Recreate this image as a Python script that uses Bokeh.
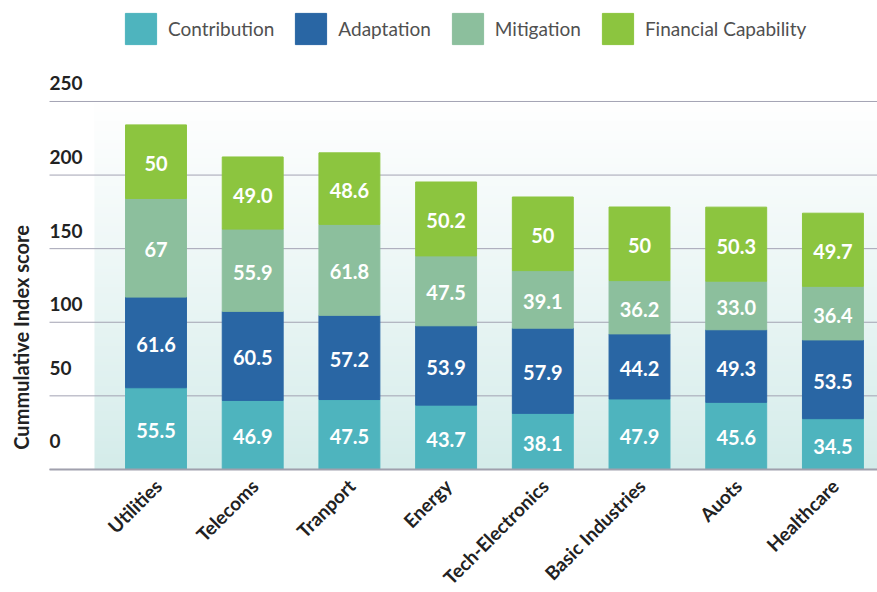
import math
import numpy as np
from bokeh.plotting import figure
from bokeh.models import Range1d, ColumnDataSource
from bokeh.core.properties import value
from bokeh.embed import file_html
from bokeh.resources import INLINE

# ---------------- data ----------------
categories = ["Utilities", "Telecoms", "Tranport", "Energy", "Tech-Electronics",
              "Basic Industries", "Auots", "Healthcare"]
series_names = ["Contribution", "Adaptation", "Mitigation", "Financial Capability"]
contribution = ["55.5", "46.9", "47.5", "43.7", "38.1", "47.9", "45.6", "34.5"]
adaptation = ["61.6", "60.5", "57.2", "53.9", "57.9", "44.2", "49.3", "53.5"]
mitigation = ["67", "55.9", "61.8", "47.5", "39.1", "36.2", "33.0", "36.4"]
financial = ["50", "49.0", "48.6", "50.2", "50", "50", "50.3", "49.7"]
y_ticks = [0, 50, 100, 150, 200, 250]
y_tick_labels = ["0", "50", "100", "150", "200", "250"]
y_title = "Cummulative Index score"

# ---------------- styling / layout ----------------
colors = ["#4eb4be", "#2966a4", "#8cbf9d", "#8cc53f"]
FONT = "Lato"
X_START, X_END = -1.608, 7.461     # full canvas width in category units
Y_MIN, Y_END = -83.6, 318.6        # full canvas height in score units
GRID_X0 = -1.101                   # where grid lines and tick labels start
BAND_X0 = -0.636                   # left edge of the tinted band
TITLE_X, TITLE_Y = -1.401, 89.7
tick_label_offsets = [-28, -28, -18, -18, -18, -18]
grid_color = "#a3a3b3"

series_text = [contribution, adaptation, mitigation, financial]
keys = ["c", "a", "m", "f"]
xs = list(range(len(categories)))
data = {"x": xs, "cat": categories}
for k, col in zip(keys, series_text):
    data[k] = [float(v) for v in col]
source = ColumnDataSource(data)

p = figure(width=877, height=592, output_backend="svg", toolbar_location=None,
           x_range=Range1d(X_START, X_END), y_range=Range1d(Y_MIN, Y_END),
           min_border_left=0, min_border_right=0, min_border_top=0,
           min_border_bottom=0)
p.outline_line_color = None
p.background_fill_color = "white"
p.border_fill_color = "white"
p.xaxis.visible = False
p.yaxis.visible = False
p.xgrid.visible = False
p.ygrid.visible = False

# gradient band behind the bars
n = 120
t = np.linspace(0, 1, n)
bottom = np.array([0xd4, 0xec, 0xea], dtype=float)
top = np.array([0xff, 0xff, 0xff], dtype=float)
rgb = bottom[None, :] + (top - bottom)[None, :] * (t ** 0.9)[:, None]
img = np.zeros((n, 1), dtype=np.uint32)
view = img.view(dtype=np.uint8).reshape((n, 1, 4))
view[:, 0, 0] = rgb[:, 0].astype(np.uint8)
view[:, 0, 1] = rgb[:, 1].astype(np.uint8)
view[:, 0, 2] = rgb[:, 2].astype(np.uint8)
view[:, 0, 3] = 255
band = p.image_rgba(image=[img], x=BAND_X0, y=0, dw=X_END - BAND_X0, dh=250)
band.level = "image"

# horizontal grid lines at the tick values
p.segment(x0=[GRID_X0] * len(y_ticks), x1=[X_END] * len(y_ticks),
          y0=y_ticks, y1=y_ticks, line_color=grid_color, line_width=1)

# stacked bars
p.vbar_stack(keys, x="x", width=0.63, color=colors, source=source,
             legend_label=series_names)

# baseline (x axis line)
p.segment(x0=[GRID_X0], x1=[X_END], y0=[y_ticks[0]], y1=[y_ticks[0]],
          line_color="#a0a0ad", line_width=2)

# segment labels
base = np.zeros(len(categories))
for k, col in zip(keys, series_text):
    vals = np.array(data[k])
    mids = base + vals / 2.0
    p.text(x=xs, y=list(mids), text=col, text_align="center", text_baseline="middle",
           text_color="white", text_font=value(FONT), text_font_style="bold",
           text_font_size="20px", y_offset=2)
    base = base + vals

# y tick labels drawn above grid lines, left aligned
p.text(x=[GRID_X0] * len(y_ticks), y=y_ticks, text=y_tick_labels,
       text_align="left", text_baseline="alphabetic", y_offset=tick_label_offsets,
       text_color="#222222", text_font=value(FONT), text_font_style="bold",
       text_font_size="19px")

# rotated category labels under the bars
p.text(x="x", y=0, text="cat", source=source, angle=math.pi / 4,
       text_align="right", text_baseline="middle", x_offset=2, y_offset=13,
       text_color="#222222", text_font=value(FONT), text_font_style="bold",
       text_font_size="19px")

# y axis title
p.text(x=[TITLE_X], y=[TITLE_Y], text=[y_title], angle=math.pi / 2,
       text_align="center", text_baseline="middle",
       text_color="#222222", text_font=value(FONT), text_font_style="bold",
       text_font_size="20px")

# legend
lg = p.legend[0]
lg.location = (121, 544)
lg.orientation = "horizontal"
lg.glyph_width = 39
lg.glyph_height = 39
lg.label_standoff = 8
lg.spacing = 17
lg.margin = 0
lg.padding = 0
lg.label_text_font = FONT
lg.label_text_font_size = "19px"
lg.label_text_color = "#505050"
lg.background_fill_alpha = 0
lg.border_line_alpha = 0

open("out.html", "w").write(file_html(p, INLINE))
